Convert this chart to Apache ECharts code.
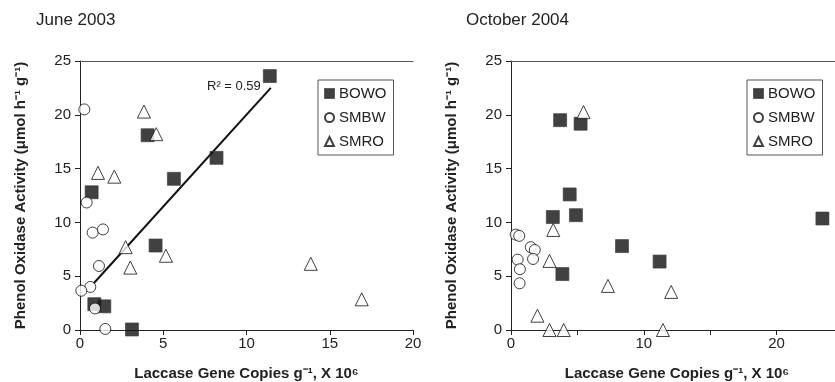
<!DOCTYPE html>
<html>
<head>
<meta charset="utf-8">
<script src="https://cdn.jsdelivr.net/npm/echarts@6/dist/echarts.min.js"></script>
<style>html,body{margin:0;padding:0;background:#fff}#c{width:835px;height:382px}</style>
</head>
<body>
<div id="c"></div>
<script>
// June 2003
const juneBOWO = [[11.4,23.6],[0.7,12.8],[4.06,18.1],[8.2,16.0],[5.64,14.05],[4.54,7.85],[0.86,2.4],[1.46,2.2],[3.12,0.05]];
const juneSMBW = [[0.26,20.5],[0.4,11.85],[0.76,9.05],[1.38,9.35],[1.14,5.95],[0.62,4.0],[0.08,3.65],[0.9,2.0],[1.52,0.1]];
const juneSMRO = [[3.84,20.3],[4.58,18.2],[1.08,14.6],[2.06,14.25],[2.74,7.7],[3.02,5.8],[5.16,6.9],[13.86,6.15],[16.92,2.85]];
const juneTrend = [[0.8,4.3],[11.46,22.5]];
// October 2004
const octBOWO = [[3.7,19.5],[5.24,19.17],[4.42,12.6],[3.15,10.5],[4.89,10.67],[8.36,7.8],[3.87,5.2],[11.19,6.36],[23.45,10.36]];
const octSMBW = [[0.35,8.87],[0.62,8.75],[1.49,7.7],[1.79,7.44],[0.5,6.54],[1.66,6.6],[0.67,5.65],[0.65,4.34]];
const octSMRO = [[5.46,20.25],[3.18,9.3],[2.9,6.42],[7.3,4.1],[12.06,3.54],[1.99,1.33],[2.9,0],[3.97,0],[11.44,0]];
const seriesNames = ['BOWO','SMBW','SMRO'];
const panelTitles = ['June 2003','October 2004'];
const yName = 'Phenol Oxidase Activity (\u03bcmol h\u207b\u00b9 g\u207b\u00b9)';
const xName = 'Laccase Gene Copies g\u207b\u00b9, X 10\u2076';
const r2Label = 'R\u00b2 = 0.59';
const xMaxJune = 20;
const xMaxOct = 25; // right panel is cut off by the page edge

const font = 'Liberation Sans, Arial, sans-serif';
const axisCol = '#222';
function xAx(grid, max, every) {
  return {
    type:'value', gridIndex:grid, min:0, max:max, interval:5,
    name:xName, nameLocation:'middle', nameGap:36,
    nameTextStyle:{fontFamily:font, fontSize:15, fontWeight:'bold', color:'#222'},
    axisLine:{lineStyle:{color:axisCol,width:1}},
    axisTick:{show:true, length:5, lineStyle:{color:axisCol}},
    axisLabel:{fontFamily:font, fontSize:15, color:'#222', margin:6,
      formatter: v => (Math.abs(v % every) > 1e-6) ? '' : String(v)},
    splitLine:{show:false}
  };
}
function topAx(grid, max) {
  return {type:'value', gridIndex:grid, position:'top', min:0, max:max,
    axisLine:{show:true,lineStyle:{color:'#555',width:1}}, axisTick:{show:false},
    axisLabel:{show:false}, splitLine:{show:false}};
}
function yAx(grid) {
  return {
    type:'value', gridIndex:grid, min:0, max:25, interval:5,
    name:yName, nameLocation:'middle', nameGap:52,
    nameTextStyle:{fontFamily:font, fontSize:15, fontWeight:'bold', color:'#222'},
    axisLine:{show:true, lineStyle:{color:axisCol,width:1}},
    axisTick:{show:true, length:5, lineStyle:{color:axisCol}},
    axisLabel:{fontFamily:font, fontSize:15, color:'#222', margin:9},
    splitLine:{show:false}
  };
}
const sqStyle = {color:'#111', borderColor:'#3a3a3a', borderWidth:0.8};
const ciStyle = {color:'#fff', borderColor:'#111', borderWidth:1};
function sc(name, xi, yi, data, sym, size, style) {
  return {name:name, type:'scatter', xAxisIndex:xi, yAxisIndex:yi, data:data,
    symbol:sym, symbolSize:size, itemStyle:style, z:3};
}
function legend(left) {
  return {
    data:seriesNames, orient:'vertical', left:left, top:80,
    padding:[6,7,6,6], itemGap:9, itemWidth:9, itemHeight:9,
    borderColor:'#555', borderWidth:1, backgroundColor:'#fff',
    textStyle:{fontFamily:font, fontSize:15, color:'#222'}
  };
}
const chart = echarts.init(document.getElementById('c'));
chart.setOption({
  animation:false,
  backgroundColor:'#fff',
  title:[
    {text:panelTitles[0], left:36, top:12, padding:0, textStyle:{fontFamily:font, fontSize:17, fontWeight:'normal', color:'#222'}},
    {text:panelTitles[1], left:466, top:12, padding:0, textStyle:{fontFamily:font, fontSize:17, fontWeight:'normal', color:'#222'}}
  ],
  grid:[
    {left:80, top:61, width:333, height:269, outerBoundsMode:'none', containLabel:false},
    {left:511, top:61, width:332, height:269, outerBoundsMode:'none', containLabel:false}
  ],
  legend:[legend(318), legend(747)],
  xAxis:[xAx(0,xMaxJune,5), topAx(0,xMaxJune), xAx(1,xMaxOct,10), topAx(1,xMaxOct)],
  yAxis:[yAx(0), yAx(1)],
  graphic:[{type:'text', left:207, top:80, style:{text:r2Label, font:'13px '+font, fill:'#222'}}],
  series:[
    sc('BOWO',0,0,juneBOWO,'rect',13,sqStyle),
    sc('SMBW',0,0,juneSMBW,'circle',11,ciStyle),
    sc('SMRO',0,0,juneSMRO,'triangle',13,ciStyle),
    {name:'trend', type:'line', xAxisIndex:0, yAxisIndex:0, data:juneTrend, symbol:'none',
      lineStyle:{color:'#111', width:2}, z:2},
    sc('BOWO',2,1,octBOWO,'rect',13,sqStyle),
    sc('SMBW',2,1,octSMBW,'circle',11,ciStyle),
    sc('SMRO',2,1,octSMRO,'triangle',13,ciStyle)
  ]
});
</script>
</body>
</html>
